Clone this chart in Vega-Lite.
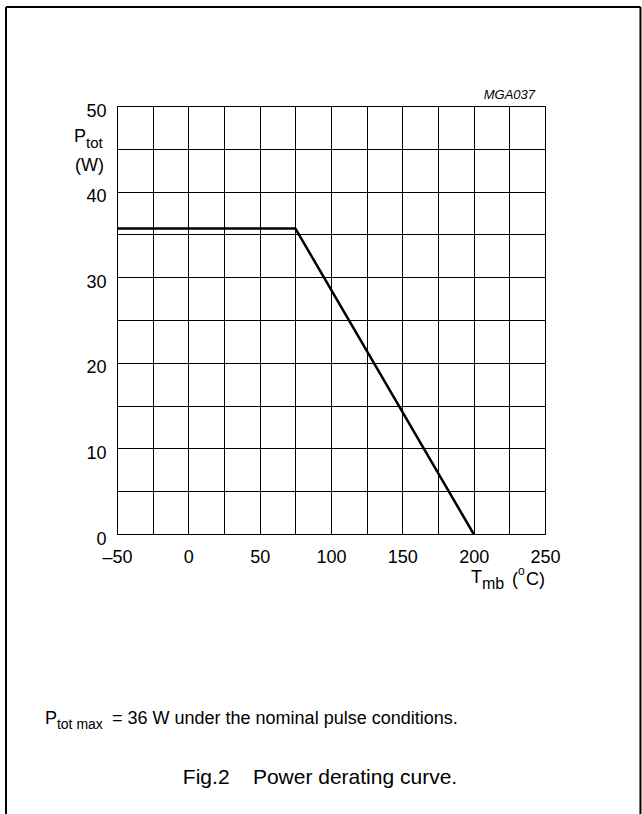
{
  "$schema": "https://vega.github.io/schema/vega-lite/v6.json",
  "width": 428,
  "height": 428,
  "autosize": {"type": "none"},
  "padding": {"left": 117, "top": 106, "right": 97, "bottom": 280},
  "background": "white",
  "config": {
    "font": "Liberation Sans",
    "view": {"stroke": "black", "strokeWidth": 1},
    "axis": {"labelFont": "Liberation Sans", "labelColor": "black", "labelFontSize": 18, "labelFlush": false, "grid": true, "gridColor": "black", "gridOpacity": 1, "gridWidth": 1, "ticks": false, "domain": false}
  },
  "datasets": {
    "curve": [
      {"t": -50, "p": 35.7},
      {"t": 75, "p": 35.7},
      {"t": 200, "p": 0}
    ],
    "frame": [
      {"t": -127.8, "t2": -127.8, "p": 61.57, "p2": -35},
      {"t": 316.9, "t2": 316.9, "p": 61.57, "p2": -35},
      {"t": -127.8, "t2": 316.9, "p": 61.57, "p2": 61.57}
    ],
    "bigText": [
      {"t": -80.1, "p": 45.8, "text": "P"},
      {"t": 198.1, "p": -5.7, "text": "T"},
      {"t": 226.9, "p": -5.96, "text": "("},
      {"t": 236.7, "p": -5.96, "text": "C)"},
      {"t": -100.5, "p": -22.2, "text": "P"},
      {"t": -53.5, "p": -22.2, "text": "= 36 W under the nominal pulse conditions."}
    ],
    "centerBig": [
      {"t": -69.3, "p": 42.4, "text": "(W)"}
    ],
    "subText": [
      {"t": -71.7, "p": 45.1, "text": "tot"}
    ],
    "noteSub": [
      {"t": -92.1, "p": -22.8, "text": "tot max"}
    ],
    "mbText": [
      {"t": 205.8, "p": -6.43, "text": "mb"}
    ],
    "supText": [
      {"t": 231.1, "p": -4.8, "text": "o"}
    ],
    "code": [
      {"t": 243, "p": 50.8, "text": "MGA037"}
    ],
    "caption": [
      {"t": 92.3, "p": -29.2, "text": "Fig.2\u00a0\u00a0\u00a0\u00a0Power derating curve."}
    ]
  },
  "encoding": {
    "x": {"field": "t", "type": "quantitative",
      "scale": {"domain": [-50, 250], "nice": false, "zero": false},
      "axis": {"title": null, "values": [-50, -25, 0, 25, 50, 75, 100, 125, 150, 175, 200, 225, 250], "labelPadding": 14,
        "labelExpr": "datum.value % 50 == 0 ? (datum.value < 0 ? '\u201350' : datum.label) : ''"}},
    "y": {"field": "p", "type": "quantitative",
      "scale": {"domain": [0, 50], "nice": false, "zero": false},
      "axis": {"title": null, "values": [0, 5, 10, 15, 20, 25, 30, 35, 40, 45, 50], "labelPadding": 11, "labelOffset": 5,
        "labelExpr": "datum.value % 10 == 0 ? datum.label : ''"}}
  },
  "layer": [
    {
      "data": {"name": "curve"},
      "mark": {"type": "line", "color": "black", "strokeWidth": 2.5}
    },
    {
      "data": {"name": "frame"},
      "mark": {"type": "rule", "color": "black", "strokeWidth": 2},
      "encoding": {
        "x2": {"field": "t2"},
        "y2": {"field": "p2"}
      }
    },
    {
      "data": {"name": "bigText"},
      "mark": {"type": "text", "fontSize": 18, "align": "left", "baseline": "alphabetic", "color": "black"},
      "encoding": {"text": {"field": "text"}}
    },
    {
      "data": {"name": "centerBig"},
      "mark": {"type": "text", "fontSize": 18, "align": "center", "baseline": "alphabetic", "color": "black"},
      "encoding": {"text": {"field": "text"}}
    },
    {
      "data": {"name": "subText"},
      "mark": {"type": "text", "fontSize": 15, "align": "left", "baseline": "alphabetic", "color": "black"},
      "encoding": {"text": {"field": "text"}}
    },
    {
      "data": {"name": "noteSub"},
      "mark": {"type": "text", "fontSize": 14, "align": "left", "baseline": "alphabetic", "color": "black"},
      "encoding": {"text": {"field": "text"}}
    },
    {
      "data": {"name": "mbText"},
      "mark": {"type": "text", "fontSize": 16, "align": "left", "baseline": "alphabetic", "color": "black"},
      "encoding": {"text": {"field": "text"}}
    },
    {
      "data": {"name": "supText"},
      "mark": {"type": "text", "fontSize": 12, "align": "left", "baseline": "alphabetic", "color": "black"},
      "encoding": {"text": {"field": "text"}}
    },
    {
      "data": {"name": "code"},
      "mark": {"type": "text", "fontSize": 13, "fontStyle": "italic", "align": "right", "baseline": "alphabetic", "color": "black"},
      "encoding": {"text": {"field": "text"}}
    },
    {
      "data": {"name": "caption"},
      "mark": {"type": "text", "fontSize": 21, "align": "center", "baseline": "alphabetic", "color": "black"},
      "encoding": {"text": {"field": "text"}}
    }
  ]
}
